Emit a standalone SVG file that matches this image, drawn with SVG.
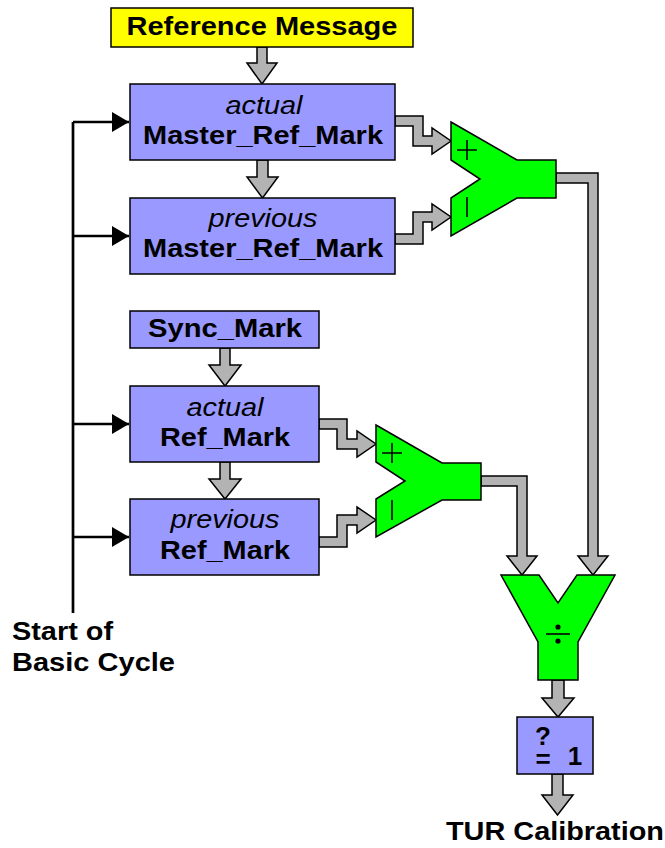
<svg xmlns="http://www.w3.org/2000/svg" width="665" height="848" viewBox="0 0 665 848">
<style>
.box{fill:#9999FF;stroke:#000;stroke-width:1.5}
.yel{fill:#FFFF00;stroke:#000;stroke-width:1.5}
.grn{fill:#00FF00;stroke:#000;stroke-width:1.5;stroke-linejoin:miter}
.gar{fill:#B3B3B3;stroke:#000;stroke-width:1.5;stroke-linejoin:miter}
.blk{fill:none;stroke:#000;stroke-width:2.7}
.sym{fill:none;stroke:#000;stroke-width:1.6}
text{font-family:"Liberation Sans",Arial,sans-serif;font-size:26px;fill:#000}
.b{font-weight:bold}
.i{font-style:italic}
.m{text-anchor:middle}
</style>
<defs>
<marker id="ah" markerUnits="userSpaceOnUse" markerWidth="18" markerHeight="20" refX="17" refY="10" orient="auto">
<path d="M0,0 L17,10 L0,20 Z" fill="#000"/>
</marker>
</defs>

<g id="connectors">
<path class="blk" d="M73,613 V122"/>
<path class="blk" d="M73,122 H129" marker-end="url(#ah)"/>
<path class="blk" d="M73,236 H129" marker-end="url(#ah)"/>
<path class="blk" d="M73,424 H129" marker-end="url(#ah)"/>
<path class="blk" d="M73,537 H129" marker-end="url(#ah)"/>
<polygon class="gar" points="257,47 267,47 267,63 277,63 262,84 247,63 257,63"/>
<polygon class="gar" points="257,160 268,160 268,177 278,177 262.5,198 247,177 257,177"/>
<polygon class="gar" points="220,348 230,348 230,365 241,365 225,386 209,365 220,365"/>
<polygon class="gar" points="220,462 230,462 230,479 241,479 225,499 209,479 220,479"/>
<polygon class="gar" points="552,680 564,680 564,698 574,698 558,717 542,698 552,698"/>
<polygon class="gar" points="552,774 563,774 563,795 573,795 557.5,815 542,795 552,795"/>
<polygon class="gar" points="395,116 423,116 423,136 432,136 432,128 451,141 432,154 432,146 413,146 413,126 395,126"/>
<polygon class="gar" points="395,244 423,244 423,222 432,222 432,230 451,217 432,204 432,212 413,212 413,234 395,234"/>
<polygon class="gar" points="319,419 347,419 347,439 357,439 357,431 376,444 357,457 357,449 337,449 337,429 319,429"/>
<polygon class="gar" points="319,547 347,547 347,525 357,525 357,533 376,520 357,507 357,515 337,515 337,537 319,537"/>
<polygon class="gar" points="556,173 598,173 598,556 608,556 593,575 578,556 588,556 588,183 556,183"/>
<polygon class="gar" points="481,476 527,476 527,556 537,556 522,575 507,556 517,556 517,486 481,486"/>
</g>

<g id="ref-message">
<rect class="yel" x="111" y="8" width="302" height="39"/>
<text class="b m" x="262" y="35" textLength="271" lengthAdjust="spacingAndGlyphs">Reference Message</text>
</g>

<g id="actual-master">
<rect class="box" x="130" y="84" width="265" height="76"/>
<text class="i m" x="264" y="114" textLength="77" lengthAdjust="spacingAndGlyphs">actual</text>
<text class="b m" x="263" y="144" textLength="240" lengthAdjust="spacingAndGlyphs">Master_Ref_Mark</text>
</g>

<g id="previous-master">
<rect class="box" x="130" y="198" width="265" height="76"/>
<text class="i m" x="263" y="227" textLength="109" lengthAdjust="spacingAndGlyphs">previous</text>
<text class="b m" x="263" y="257" textLength="240" lengthAdjust="spacingAndGlyphs">Master_Ref_Mark</text>
</g>

<g id="subtractor-1">
<polygon class="grn" points="451,122 517,160 556,160 556,198 517,198 451,236 451,198 480,179 451,160"/>
<path class="sym" d="M457,150 H477 M467,140 V160 M467,197 V217"/>
</g>

<g id="sync-mark">
<rect class="box" x="130" y="311" width="189" height="37"/>
<text class="b m" x="225" y="337" textLength="154" lengthAdjust="spacingAndGlyphs">Sync_Mark</text>
</g>

<g id="actual-ref">
<rect class="box" x="130" y="386" width="189" height="76"/>
<text class="i m" x="225" y="416" textLength="77" lengthAdjust="spacingAndGlyphs">actual</text>
<text class="b m" x="225" y="446" textLength="130" lengthAdjust="spacingAndGlyphs">Ref_Mark</text>
</g>

<g id="previous-ref">
<rect class="box" x="130" y="499" width="189" height="76"/>
<text class="i m" x="225" y="528" textLength="109" lengthAdjust="spacingAndGlyphs">previous</text>
<text class="b m" x="225" y="559" textLength="130" lengthAdjust="spacingAndGlyphs">Ref_Mark</text>
</g>

<g id="subtractor-2">
<polygon class="grn" points="376,425 442,463 481,463 481,500 442,500 376,537 376,499 405,481 376,462"/>
<path class="sym" d="M382,453 H402 M392,443 V463 M392,500 V520"/>
</g>

<g id="divider">
<polygon class="grn" points="501,575 539,575 558,603 577,575 615,575 578,642 578,680 538,680 538,642"/>
<path class="sym" d="M546,634 H570" stroke-width="2.2"/>
<circle cx="558" cy="627" r="2.6" fill="#000"/>
<circle cx="558" cy="641" r="2.6" fill="#000"/>
</g>

<g id="compare">
<rect class="box" x="517" y="717" width="76" height="57"/>
<text class="b m" font-size="25"><tspan x="543" y="745">?</tspan><tspan x="543" y="768">=</tspan></text>
<text class="b m" x="575" y="765" font-size="27">1</text>
</g>

<g id="tur-label">
<text class="b" x="446" y="840" textLength="218" lengthAdjust="spacingAndGlyphs">TUR Calibration</text>
</g>

<g id="start-label">
<text class="b" x="12" y="640" textLength="101" lengthAdjust="spacingAndGlyphs">Start of</text>
<text class="b" x="12" y="671" textLength="163" lengthAdjust="spacingAndGlyphs">Basic Cycle</text>
</g>
</svg>
